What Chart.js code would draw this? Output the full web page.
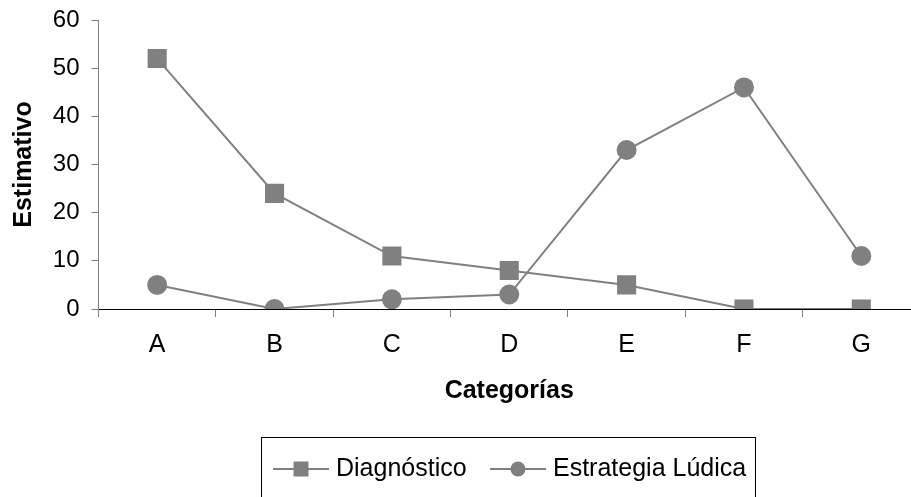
<!DOCTYPE html>
<html>
<head>
<meta charset="utf-8">
<script src="https://cdn.jsdelivr.net/npm/chart.js@4/dist/chart.umd.min.js"></script>
<style>
  html, body { margin: 0; padding: 0; background: #fff; overflow: hidden; }
  #wrap { position: relative; width: 911px; height: 497px; overflow: hidden; }
  #chart { display: block; }
</style>
</head>
<body>
<!-- canvas a bit wider than the picture: the plot runs past the right edge, as in the original -->
<div id="wrap"><canvas id="chart" width="920" height="497"></canvas></div>
<script>
var categories = ["A", "B", "C", "D", "E", "F", "G"];
var diagnostico = [52, 24, 11, 8, 5, 0, 0];
var estrategia = [5, 0, 2, 3, 33, 46, 11];
var seriesNames = ["Diagnóstico", "Estrategia Lúdica"];
var yTicks = [0, 10, 20, 30, 40, 50, 60];

var gray = "#808080";
var fontFamily = "'Liberation Sans', Arial, sans-serif";

// legend box drawn by hand, Excel style: line + marker + text inside a frame
var boxLegend = {
	id: "boxLegend",
	afterDraw: function (chart) {
		var ctx = chart.ctx;
		ctx.save();
		ctx.strokeStyle = "#000";
		ctx.lineWidth = 1;
		ctx.strokeRect(261.5, 437.5, 494, 80);

		var y = 469;
		var items = [
			{ x: 273, style: "rect" },
			{ x: 490, style: "circle" }
		];
		items.forEach(function (it, i) {
			ctx.strokeStyle = gray;
			ctx.lineWidth = 2;
			ctx.beginPath();
			ctx.moveTo(it.x, y);
			ctx.lineTo(it.x + 56, y);
			ctx.stroke();
			ctx.fillStyle = gray;
			if (it.style === "rect") {
				ctx.fillRect(it.x + 20.5, y - 7.5, 15, 15);
			} else {
				ctx.beginPath();
				ctx.arc(it.x + 28, y, 7.5, 0, Math.PI * 2);
				ctx.fill();
			}
			ctx.fillStyle = "#000";
			ctx.font = "25px " + fontFamily;
			ctx.textBaseline = "middle";
			ctx.fillText(seriesNames[i], it.x + 63, y);
		});
		ctx.restore();
	}
};

var ctx1 = document.getElementById("chart");

var chart1 = new Chart(ctx1, {
	type: "line",
	data: {
		labels: categories,
		datasets: [
			{
				label: seriesNames[0],
				data: diagnostico,
				borderColor: gray,
				backgroundColor: gray,
				borderWidth: 2,
				pointStyle: "rect",
				pointRadius: 13.5,
				pointBorderWidth: 0,
				tension: 0
			},
			{
				label: seriesNames[1],
				data: estrategia,
				borderColor: gray,
				backgroundColor: gray,
				borderWidth: 2,
				pointStyle: "circle",
				pointRadius: 10,
				pointBorderWidth: 0,
				tension: 0
			}
		]
	},
	options: {
		responsive: false,
		animation: false,
		layout: {
			autoPadding: false,
			padding: { top: 20, right: 0, bottom: 91, left: 0 }
		},
		plugins: {
			legend: { display: false },
			tooltip: { enabled: false }
		},
		scales: {
			x: {
				offset: true,
				grid: {
					offset: true,
					drawOnChartArea: false,
					drawTicks: true,
					tickLength: 8,
					color: gray
				},
				border: { color: "#000", width: 1 },
				ticks: {
					color: "#000",
					font: { family: fontFamily, size: 25 },
					padding: 13,
					maxRotation: 0
				},
				title: {
					display: true,
					text: "Categorías",
					color: "#000",
					font: { family: fontFamily, size: 25, weight: "bold" },
					padding: { top: 0, bottom: 0 }
				},
				afterFit: function (scale) {
					scale.height = 97;
					scale.paddingLeft = 0;
					scale.paddingRight = 0;
				}
			},
			y: {
				min: 0,
				max: 60,
				afterBuildTicks: function (scale) {
					scale.ticks = yTicks.map(function (v) { return { value: v }; });
				},
				grid: {
					drawOnChartArea: false,
					drawTicks: true,
					tickLength: 7,
					color: gray
				},
				border: { color: gray, width: 1 },
				ticks: {
					color: "#000",
					font: { family: fontFamily, size: 24 },
					padding: 12
				},
				title: {
					display: true,
					text: "Estimativo",
					color: "#000",
					font: { family: fontFamily, size: 25, weight: "bold" },
					padding: { top: 9, bottom: 0 }
				},
				afterFit: function (scale) {
					scale.width = 98.5;
					scale.paddingTop = 0;
					scale.paddingBottom = 0;
				}
			}
		}
	},
	plugins: [boxLegend]
});
</script>
</body>
</html>
